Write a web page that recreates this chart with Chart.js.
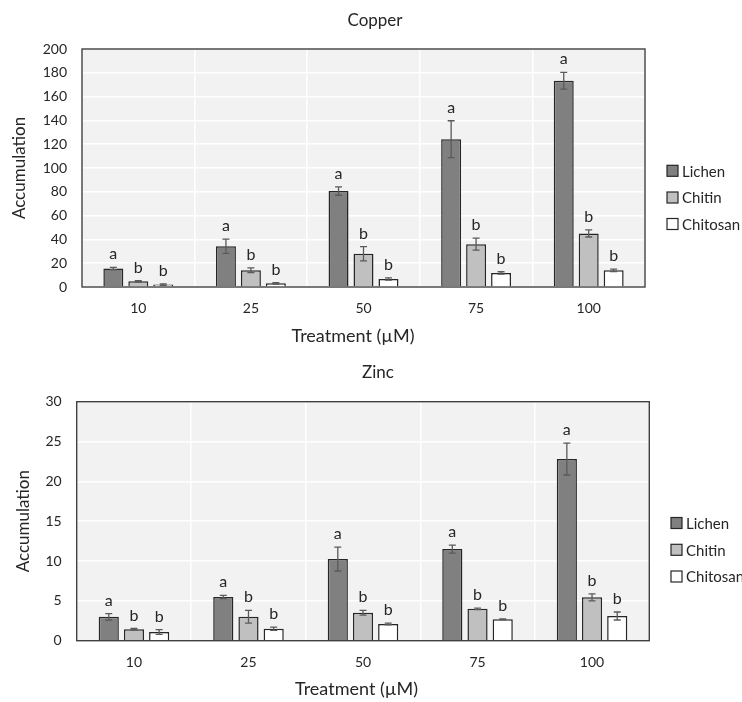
<!DOCTYPE html>
<html lang="en">
<head>
<meta charset="UTF-8" />
<title>Copper and Zinc accumulation</title>
<script src="https://cdn.jsdelivr.net/npm/chart.js"></script>
<style>
  body { margin: 0; background: #fff; }
  .box { position: absolute; left: 0; }
  #copperBox { top: 0; }
  #zincBox { top: 350px; }
</style>
</head>
<body>
<div class="box" id="copperBox"><canvas id="copperChart" width="742" height="350"></canvas></div>
<div class="box" id="zincBox"><canvas id="zincChart" width="742" height="352"></canvas></div>
<script>
// categories and series
const treatments = ["10", "25", "50", "75", "100"];
const seriesNames = ["Lichen", "Chitin", "Chitosan"];
const groupLetters = ["a", "b", "b"];

// copper values and error bars
const copperLichen = [15.5, 34.3, 80.6, 124.2, 173.3];
const copperChitin = [4.8, 14, 28, 36, 45];
const copperChitosan = [2, 3.1, 6.7, 11.8, 14];
const copperLichenErr = [1, 6, 3.5, 15.5, 7];
const copperChitinErr = [0.6, 2, 6, 5, 3];
const copperChitosanErr = [0.6, 0.6, 1, 1, 1];

// zinc values and error bars
const zincLichen = [3.0, 5.5, 10.25, 11.5, 22.8];
const zincChitin = [1.43, 3.0, 3.5, 4.0, 5.44];
const zincChitosan = [1.1, 1.5, 2.1, 2.7, 3.1];
const zincLichenErr = [0.4, 0.2, 1.5, 0.5, 2];
const zincChitinErr = [0.1, 0.8, 0.3, 0.1, 0.45];
const zincChitosanErr = [0.3, 0.2, 0.1, 0.05, 0.5];

const FONT = "Lato, 'Open Sans', sans-serif";
const TEXT = '#262626';
const fills = ['#808080', '#c0c0c0', '#ffffff'];

const extras = {
  id: 'extras',
  beforeDraw(chart) {
    const { ctx, chartArea: a } = chart;
    ctx.save();
    ctx.fillStyle = '#f2f2f2';
    ctx.fillRect(a.left, a.top, a.width, a.height);
    ctx.restore();
  },
  beforeDatasetsDraw(chart) {
    const { ctx, chartArea: a } = chart;
    ctx.save();
    ctx.strokeStyle = '#404040';
    ctx.lineWidth = 1.4;
    ctx.strokeRect(a.left, a.top, a.width, a.height);
    ctx.restore();
  },
  afterDatasetsDraw(chart, args, o) {
    const { ctx } = chart;
    const y = chart.scales.y;
    ctx.save();
    chart.data.datasets.forEach((ds, i) => {
      const meta = chart.getDatasetMeta(i);
      meta.data.forEach((bar, j) => {
        const v = ds.data[j], e = o.errors[i][j];
        const top = y.getPixelForValue(v + e);
        const bot = y.getPixelForValue(v - e);
        ctx.strokeStyle = '#5a5a5a';
        ctx.lineWidth = 1.3;
        ctx.beginPath();
        ctx.moveTo(bar.x, top); ctx.lineTo(bar.x, bot);
        ctx.moveTo(bar.x - 3.5, top); ctx.lineTo(bar.x + 3.5, top);
        ctx.moveTo(bar.x - 3.5, bot); ctx.lineTo(bar.x + 3.5, bot);
        ctx.stroke();
        ctx.fillStyle = TEXT;
        ctx.font = '16px ' + FONT;
        ctx.textAlign = 'center';
        ctx.textBaseline = 'alphabetic';
        ctx.fillText(groupLetters[i], bar.x, top - 8);
      });
    });
    ctx.restore();
  },
  afterDraw(chart, args, o) {
    const { ctx } = chart;
    ctx.save();
    ctx.fillStyle = TEXT;
    ctx.font = '17px ' + FONT;
    ctx.textAlign = 'center';
    ctx.textBaseline = 'alphabetic';
    ctx.fillText(o.title, o.titleX, o.titleY);
    ctx.font = '18px ' + FONT;
    ctx.fillText('Treatment (µM)', o.xTitleX, o.xTitleY);
    ctx.font = '15px ' + FONT;
    ctx.textAlign = 'left';
    ctx.textBaseline = 'middle';
    chart.data.datasets.forEach((ds, i) => {
      const cy = o.legendY[i];
      ctx.fillStyle = ds.backgroundColor;
      ctx.fillRect(o.legendX, cy - 5.5, 11, 11);
      ctx.strokeStyle = '#262626';
      ctx.lineWidth = 1.2;
      ctx.strokeRect(o.legendX, cy - 5.5, 11, 11);
      ctx.fillStyle = TEXT;
      ctx.fillText(ds.label, o.legendX + 15, cy + 1);
    });
    ctx.restore();
  }
};

function makeChart(id, values, errors, cfg) {
  return new Chart(document.getElementById(id), {
    type: 'bar',
    data: {
      labels: treatments,
      datasets: values.map((vals, i) => ({
        label: seriesNames[i],
        data: vals,
        backgroundColor: fills[i],
        borderColor: '#262626',
        borderWidth: 1.5,
        categoryPercentage: cfg.catPct,
        barPercentage: 0.8
      }))
    },
    options: {
      responsive: false,
      animation: false,
      devicePixelRatio: 1,
      layout: { padding: { top: cfg.top, right: cfg.right, left: 0, bottom: 0 } },
      plugins: {
        legend: { display: false },
        tooltip: { enabled: false },
        extras: {
          errors: errors,
          title: cfg.title,
          titleX: cfg.titleX,
          titleY: cfg.titleY,
          xTitleX: cfg.xTitleX,
          xTitleY: cfg.xTitleY,
          legendX: cfg.legendX,
          legendY: cfg.legendY
        }
      },
      scales: {
        x: {
          grid: { color: '#ffffff', lineWidth: 1.5, drawTicks: false, offset: true },
          border: { display: false },
          ticks: { color: TEXT, font: { family: FONT, size: 14 }, padding: 13 },
          afterFit(s) { s.height = cfg.xHeight; }
        },
        y: {
          min: 0, max: cfg.max,
          grid: { color: '#ffffff', lineWidth: 1.5, drawTicks: false },
          border: { display: false },
          ticks: { stepSize: cfg.step, color: TEXT, font: { family: FONT, size: 14 }, padding: 15 },
          title: {
            display: true, text: 'Accumulation', color: TEXT,
            font: { family: FONT, size: 17 }, padding: { top: cfg.yTitlePad, bottom: 0 }
          },
          afterFit(s) { s.width = cfg.yWidth; }
        }
      }
    },
    plugins: [extras]
  });
}

makeChart('copperChart',
  [copperLichen, copperChitin, copperChitosan],
  [copperLichenErr, copperChitinErr, copperChitosanErr],
  { title: 'Copper', titleX: 375, titleY: 26, xTitleX: 353, xTitleY: 341.5,
    top: 49, right: 97, yWidth: 82, xHeight: 63,
    max: 200, step: 20, catPct: 0.665, yTitlePad: 9,
    legendX: 667, legendY: [170.8, 197.5, 224] });

makeChart('zincChart',
  [zincLichen, zincChitin, zincChitosan],
  [zincLichenErr, zincChitinErr, zincChitosanErr],
  { title: 'Zinc', titleX: 378, titleY: 28, xTitleX: 356.5, xTitleY: 345,
    top: 51.7, right: 92.7, yWidth: 76.7, xHeight: 61.3,
    max: 30, step: 5, catPct: 0.66, yTitlePad: 13,
    legendX: 671, legendY: [173, 199.8, 226.5] });
</script>
</body>
</html>
